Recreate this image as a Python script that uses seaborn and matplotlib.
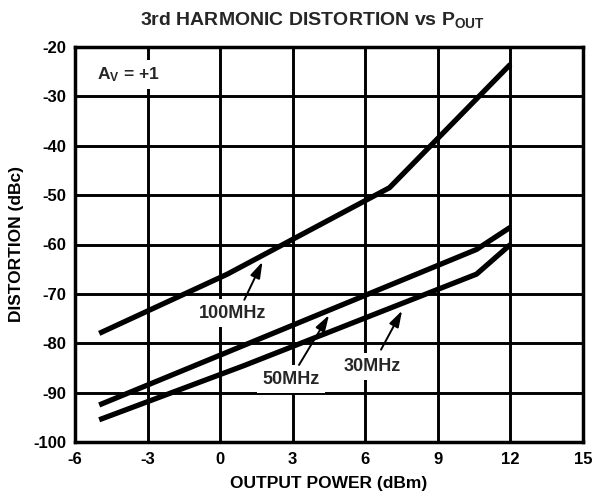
import matplotlib
matplotlib.use("Agg")
import matplotlib.pyplot as plt
import seaborn as sns
import pandas as pd

# Output power (dBm) and 3rd harmonic distortion (dBc) per test frequency
x_100mhz = [-5, 0.3, 7, 10.5, 12]
y_100mhz = [-78, -66, -48.5, -31, -23.5]

x_50mhz = [-5, 10.6, 12]
y_50mhz = [-92.5, -61, -56.5]

x_30mhz = [-5, 1, 10.6, 12]
y_30mhz = [-95.5, -84.5, -66, -60]

x_ticks = [-6, -3, 0, 3, 6, 9, 12, 15]
y_ticks = [-20, -30, -40, -50, -60, -70, -80, -90, -100]

frames = []
for name, xs, ys in [("100MHz", x_100mhz, y_100mhz),
                     ("50MHz", x_50mhz, y_50mhz),
                     ("30MHz", x_30mhz, y_30mhz)]:
    frames.append(pd.DataFrame({"pout": xs, "dist": ys, "freq": name}))
data = pd.concat(frames, ignore_index=True)

sns.set_theme(style="white")
plt.rcParams["font.family"] = ["Liberation Sans", "DejaVu Sans"]
plt.rcParams["font.weight"] = "bold"
plt.rcParams["mathtext.fontset"] = "custom"
plt.rcParams["mathtext.rm"] = "Liberation Sans:bold"
plt.rcParams["mathtext.it"] = "Liberation Sans:bold"
plt.rcParams["mathtext.bf"] = "Liberation Sans:bold"

fig = plt.figure(figsize=(6.05, 5.01), dpi=100)
ax = fig.add_axes([75 / 605, 1 - 442 / 501, 508 / 605, 395 / 501])

sns.lineplot(data=data, x="pout", y="dist", units="freq", estimator=None,
             sort=False, color="black", linewidth=3.8, ax=ax, zorder=5,
             solid_capstyle="butt")

ax.set_xlim(-6, 15)
ax.set_ylim(-100, -20)
ax.set_xticks(x_ticks)
ax.set_yticks(y_ticks)
ax.set_xticklabels([str(v) for v in x_ticks], fontsize=12, fontweight="bold")
ax.set_yticklabels([str(v) for v in y_ticks], fontsize=12, fontweight="bold")
ax.tick_params(axis="both", length=0, colors="black")
ax.tick_params(axis="x", pad=7)
ax.tick_params(axis="y", pad=6)

ax.grid(True, color="black", linewidth=2.1, zorder=1)
ax.set_axisbelow(True)
for sp in ax.spines.values():
    sp.set_visible(True)
    sp.set_color("black")
    sp.set_linewidth(2.5)

ax.set_xlabel("OUTPUT POWER (dBm)", fontsize=12.5, fontweight="bold",
              labelpad=7, color="black")
ax.set_ylabel("DISTORTION (dBc)", fontsize=12.5, fontweight="bold",
              labelpad=7, color="black")

fig.text(312 / 605, 1 - 20 / 501, r"3rd HARMONIC DISTORTION vs P$_{\mathrm{OUT}}$",
         ha="center", va="center", fontsize=14, fontweight="bold")

box = dict(boxstyle="square,pad=0.3", facecolor="white", edgecolor="none")
ax.text(-5.1, -25.5, r"A$_{\mathrm{V}}$ = +1", ha="left", va="center",
        fontsize=12.5, fontweight="bold", bbox=box, zorder=3)

arrow = dict(arrowstyle="-|>,head_length=0.7,head_width=0.22", color="black",
             linewidth=1.4, mutation_scale=14, shrinkA=0, shrinkB=0)
for label, (tx, ty), (ax0, ay0), (hx, hy) in [
        ("100MHz", (0.5, -73.9), (1.0, -71.2), (1.75, -63.5)),
        ("50MHz", (2.92, -87.3), (3.26, -84.4), (4.5, -74.3)),
        ("30MHz", (6.28, -84.7), (6.65, -81.3), (7.52, -73.4))]:
    ax.text(tx, ty, label, ha="center", va="center", fontsize=13,
            fontweight="bold", bbox=box, zorder=3)
    ax.annotate("", xy=(hx, hy), xytext=(ax0, ay0), arrowprops=arrow, zorder=6)

fig.savefig("out.png", dpi=100, facecolor="white")
